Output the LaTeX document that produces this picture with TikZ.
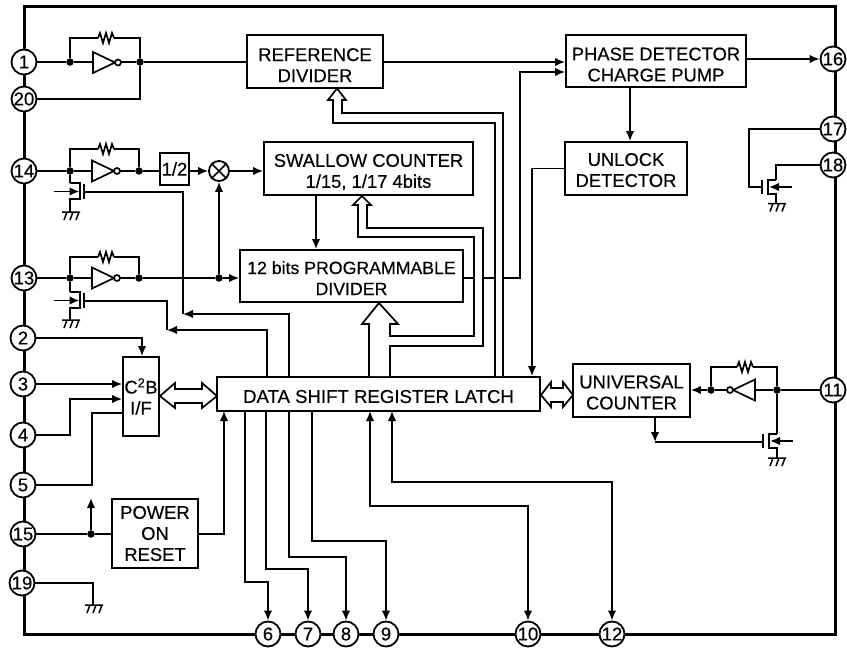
\documentclass[tikz,border=0pt]{standalone}
\usepackage{fontspec}
\setmainfont{Liberation Sans}[RawFeature={embolden=0.35}]
\usetikzlibrary{arrows.meta}
\tikzset{
  wire/.style={line width=1.7pt,line join=miter},
  tip/.style={-{Latex[length=10pt,width=8.5pt]}},
  blk/.style={draw,line width=1.8pt,fill=white,inner sep=0pt,align=center,font=\fontsize{18.4}{21}\selectfont},
  drop/.style={execute at begin node={\rule{0pt}{#1pt}}},
  pin/.style={circle,draw,line width=1.8pt,fill=white,minimum size=25pt,inner sep=0pt,font=\fontsize{18.5}{18.5}\selectfont},
  dot/.style={circle,fill=black,minimum size=7.5pt,inner sep=0pt},
  bus/.style={line width=1.7pt,fill=white,line join=miter},
  gndsym/.pic={\draw[line width=1.5pt] (-9,0)--(9,0) (-4,0)--(-7,8) (2,0)--(-1,8) (8,0)--(5,8);},
  resist/.pic={\draw[line width=1.7pt,fill=white,draw=white] (-7,-1) rectangle (7,1);
    \draw[line width=1.7pt] (-8,0)--(-6,-5)--(-3,5)--(0,-5)--(3,5)--(6,-5)--(8,0);},
  invert/.pic={\draw[line width=1.7pt,fill=white] (0,-10.5)--(0,10.5)--(22,0)--cycle;
    \draw[line width=1.7pt,fill=white] (25,0) circle (3);},
  fetleft/.pic={\draw[line width=1.7pt] (0,0)--(10,0)--(10,16)--(0,16)--(0,29);
    \draw[line width=2.2pt] (14,1)--(14,16);
    \draw[wire,tip] (-16,8.5)--(9.5,8.5);},
  fetright/.pic={\draw[line width=1.7pt] (0,0)--(-8,0)--(-8,14)--(0,14)--(0,24);
    \draw[line width=2.2pt] (-14,0)--(-14,14);
    \draw[wire,tip] (16,7)--(-7,7);}
}
\begin{document}
\begin{tikzpicture}[x=1pt,y=-1pt]
\useasboundingbox (0,0) rectangle (847,648);
% package outline
\draw[line width=3pt] (24,6) rectangle (835,634);
% pins
\node[pin] (p1) at (24,62) {1};
\node[pin] (p20) at (24,99) {20};
\node[pin] (p14) at (24,171) {14};
\node[pin] (p13) at (24,278) {13};
\node[pin] (p2) at (23,338) {2};
\node[pin] (p3) at (23,384) {3};
\node[pin] (p4) at (23,435) {4};
\node[pin] (p5) at (23,485) {5};
\node[pin] (p15) at (23,534) {15};
\node[pin] (p19) at (22,583) {19};
\node[pin] (p16) at (833,59) {16};
\node[pin] (p17) at (833,129) {17};
\node[pin] (p18) at (833,165) {18};
\node[pin] (p11) at (833,390) {11};
\node[pin] (p6) at (268,634) {6};
\node[pin] (p7) at (308,634) {7};
\node[pin] (p8) at (346,634) {8};
\node[pin] (p9) at (386,634) {9};
\node[pin] (p10) at (528,634) {10};
\node[pin] (p12) at (612,634) {12};
% blocks
\node[blk,drop=41,minimum width=136pt,minimum height=53pt] (ref) at (315,61.5) {REFERENCE\\DIVIDER};
\node[blk,drop=41,minimum width=209pt,minimum height=53pt] (swa) at (368.5,168.5) {SWALLOW COUNTER\\1/15, 1/17 4bits};
\node[blk,drop=38,minimum width=223pt,minimum height=52pt,font=\fontsize{17.7}{21}\selectfont] (prg) at (351.5,276) {12 bits PROGRAMMABLE\\DIVIDER};
\node[blk,drop=41,minimum width=180pt,minimum height=52pt] (pha) at (656,61) {PHASE DETECTOR\\CHARGE PUMP};
\node[blk,drop=37,minimum width=122pt,minimum height=53pt] (unl) at (626,168.5) {UNLOCK\\DETECTOR};
\node[blk,drop=18,minimum width=323pt,minimum height=34pt,font=\fontsize{18.6}{21}\selectfont] (dat) at (378.5,394) {DATA SHIFT REGISTER LATCH};
\node[blk,drop=38,minimum width=117pt,minimum height=53pt] (uni) at (631.5,390.5) {UNIVERSAL\\COUNTER};
\node[blk,minimum width=36pt,minimum height=79pt] (cb) at (141,396.5) {C\textsuperscript{2}B\\I/F};
\node[blk,minimum width=86pt,minimum height=69pt] (por) at (155,533.5) {POWER\\ON\\RESET};
\node[blk,minimum width=29pt,minimum height=32pt] (hlf) at (174.5,169) {1/2};
\node[circle,draw,line width=1.8pt,minimum size=20pt,inner sep=0pt] (mix) at (219,171) {};
\draw[line width=1.7pt] (mix.45)--(mix.225) (mix.135)--(mix.-45);
% junctions
\node[dot] (j1a) at (70,62) {};
\node[dot] (j1b) at (140,62) {};
\node[dot] (j14a) at (70,171) {};
\node[dot] (j14b) at (139,171) {};
\node[dot] (j13a) at (70,278) {};
\node[dot] (j13b) at (139,278) {};
\node[dot] (j13c) at (219,278) {};
\node[dot] (j15) at (91,534) {};
\node[dot] (j11a) at (777,390) {};
\node[dot] (j11b) at (711,390) {};
% free ends
\coordinate (d6) at (245,411);
\coordinate (d7) at (266,411);
\coordinate (d8) at (289,411);
\coordinate (d9) at (312,411);
\coordinate (d10) at (370,411);
\coordinate (d12) at (392,411);
\coordinate (dpor) at (224,411);
\coordinate (dq14) at (267,377);
\coordinate (dq13) at (289,377);
\coordinate (g14) at (84,192);
\coordinate (g13) at (84,301);
\coordinate (c14) at (183,314);
\coordinate (c13) at (167,330);
\coordinate (cu) at (655,442);
\coordinate (gu) at (764,442);
\coordinate (g17) at (762,187);
\coordinate (x1) at (495,278);
\coordinate (x2) at (503,278);
\coordinate (up15) at (91,498);
% oscillator 1
\draw[wire] (p1) -- (j1a) -- (j1b) -- (ref.west |- j1b);
\draw[wire] (j1a) -- (70,38) -- (140,38) -- (j1b);
\draw[wire] (j1b) -- (140,99) -- (p20);
\pic at (106,38) {resist};
\pic at (93,62.5) {invert};
% oscillator 14
\draw[wire] (p14) -- (j14a) -- (j14b) -- (hlf.west |- j14b);
\draw[wire] (j14a) -- (70,149) -- (139,149) -- (j14b);
\draw[wire] (j14a) -- (70,183);
\pic at (106,149) {resist};
\pic at (92,171) {invert};
\pic at (70,183) {fetleft};
\pic at (71,212) {gndsym};
\draw[wire,tip] (hlf.east |- mix) -- (mix);
\draw[wire,tip] (mix) -- (swa.west |- mix);
\draw[wire,tip] (j13c) -- (mix);
% oscillator 13
\draw[wire,tip] (p13) -- (j13a) -- (j13b) -- (j13c) -- (prg.west |- j13c);
\draw[wire] (j13a) -- (70,257) -- (139,257) -- (j13b);
\draw[wire] (j13a) -- (70,292);
\pic at (106,257) {resist};
\pic at (92,278) {invert};
\pic at (70,292) {fetleft};
\pic at (71,320) {gndsym};
% gate wires
\draw[wire] (g14) -- (183,192) -- (c14);
\draw[wire,tip] (dq13) -- (289,314) -- (c14);
\draw[wire] (g13) -- (167,301) -- (c13);
\draw[wire,tip] (dq14) -- (267,330) -- (c13);
% block to block
\draw[wire,tip] (swa.south -| 316,0) -- (prg.north -| 316,0);
\draw[wire,tip] (ref.east |- 0,62) -- (pha.west |- 0,62);
\draw[wire] (prg.east |- x1) -- (x1);
\draw[wire,tip] (x2) -- (520,278) -- (520,72) -- (pha.west |- 0,72);
\draw[wire,tip] (pha.east |- p16) -- (p16);
\draw[wire,tip] (pha.south -| 630,0) -- (unl.north -| 630,0);
\draw[wire,tip] (unl.west) -- (532,168.5) -- (dat.north -| 532,0);
% hollow buses
\draw[bus] (503,376) -- (503,113) -- (342,113) -- (342,100) -- (346,100) -- (337,88.5) -- (328,100) -- (333,100) -- (333,123) -- (495,123) -- (495,376);
\draw[bus] (369,376) -- (369,324) -- (362,324) -- (379,303) -- (398,324) -- (390,324) -- (390,336) -- (474,336) -- (474,237) -- (358,237) -- (358,205) -- (353,205) -- (362,196) -- (371,205) -- (367,205) -- (367,228) -- (483,228) -- (483,346) -- (390,346) -- (390,376);
\draw[bus] (160,396) -- (175,383) -- (175,389) -- (202,389) -- (202,383) -- (217,396) -- (202,408) -- (202,403) -- (175,403) -- (175,408) -- cycle;
\draw[bus] (541,395) -- (551,382) -- (551,388) -- (563,388) -- (563,382) -- (573,395) -- (563,407) -- (563,402) -- (551,402) -- (551,407) -- cycle;
% C2B inputs
\draw[wire,tip] (p2) -- (142,338) -- (cb.north -| 142,0);
\draw[wire,tip] (p3) -- (cb.west |- p3);
\draw[wire,tip] (p4) -- (70,435) -- (70,399) -- (cb.west |- 0,399);
\draw[wire] (p5) -- (92,485) -- (92,413) -- (cb.west |- 0,413);
% power on reset
\draw[wire] (p15) -- (j15) -- (por.west |- j15);
\draw[wire,tip] (j15) -- (up15);
\draw[wire,tip] (por.east |- j15) -- (224,534) -- (dpor);
\draw[wire] (p19) -- (93,583) -- (93,605);
\pic at (94,605) {gndsym};
% outputs at the bottom
\draw[wire,tip] (d6) -- (245,582) -- (268,582) -- (p6);
\draw[wire,tip] (d7) -- (266,569) -- (308,569) -- (p7);
\draw[wire,tip] (d8) -- (289,557) -- (346,557) -- (p8);
\draw[wire,tip] (d9) -- (312,541) -- (386,541) -- (p9);
\draw[wire,{Latex[length=10pt,width=8.5pt]}-{Latex[length=10pt,width=8.5pt]}] (d10) -- (370,506) -- (528,506) -- (p10);
\draw[wire,{Latex[length=10pt,width=8.5pt]}-{Latex[length=10pt,width=8.5pt]}] (d12) -- (392,482) -- (612,482) -- (p12);
% universal counter oscillator
\draw[wire] (p11) -- (j11a) -- (j11b);
\draw[wire,tip] (j11b) -- (uni.east |- j11b);
\draw[wire] (j11b) -- (711,367) -- (777,367) -- (j11a);
\draw[wire] (j11a) -- (777,434);
\pic at (745,367) {resist};
\pic[xscale=-1] at (755,390) {invert};
\pic at (777,434) {fetright};
\pic at (777,458) {gndsym};
\draw[wire,tip] (uni.south -| cu) -- (cu);
\draw[wire] (cu) -- (gu);
% pins 17, 18
\draw[wire] (p17) -- (749,129) -- (749,187) -- (g17);
\draw[wire] (p18) -- (776,165) -- (776,180);
\pic at (776,180) {fetright};
\pic at (777,203.5) {gndsym};
\end{tikzpicture}
\end{document}
